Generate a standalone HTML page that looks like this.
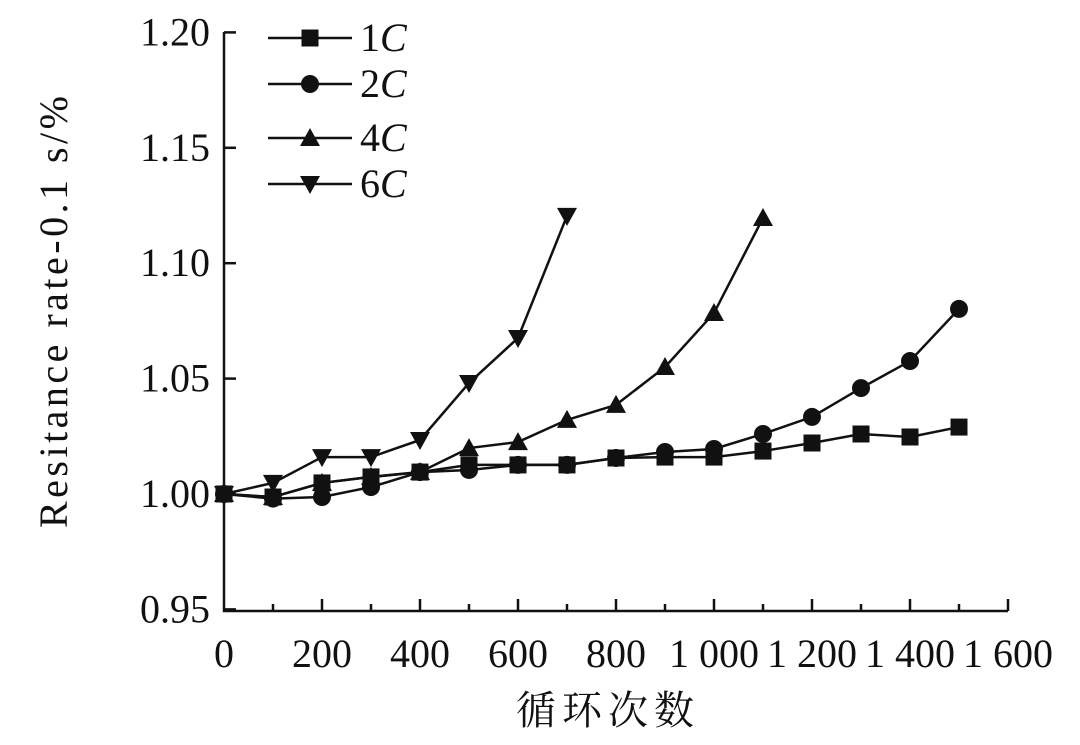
<!DOCTYPE html>
<html><head><meta charset="utf-8"><style>
html,body{margin:0;padding:0;background:#fff;}
svg{display:block;}
text{font-family:"Liberation Serif","Noto Serif CJK SC",serif;fill:#111;}
</style></head><body>
<svg id="chart" width="1080" height="745" viewBox="0 0 1080 745"></svg>
<script>
const xTicks=[0,200,400,600,800,1000,1200,1400,1600];
const xTickLabels=["0","200","400","600","800","1 000","1 200","1 400","1 600"];
const yTicks=[0.95,1.00,1.05,1.10,1.15,1.20];
const yTickLabels=["0.95","1.00","1.05","1.10","1.15","1.20"];
const cycles1=[0,100,200,300,400,500,600,700,800,900,1000,1100,1200,1300,1400,1500];
const rate1C=[1.000,0.9987,1.0048,1.0074,1.0095,1.0126,1.0126,1.0126,1.0156,1.0160,1.0160,1.0186,1.0221,1.026,1.0247,1.029];
const cycles2=[0,100,200,300,400,500,600,700,800,900,1000,1100,1200,1300,1400,1500];
const rate2C=[1.000,0.998,0.9987,1.0030,1.0095,1.0104,1.0126,1.0126,1.0156,1.0182,1.0195,1.026,1.0334,1.0459,1.0576,1.0802];
const cycles4=[0,100,200,300,400,500,600,700,800,900,1000,1100];
const rate4C=[1.000,0.9987,1.0048,1.0074,1.0095,1.0199,1.0225,1.0321,1.0386,1.055,1.0784,1.1196];
const cycles6=[0,100,200,300,400,500,600,700];
const rate6C=[1.000,1.0048,1.016,1.016,1.0234,1.0481,1.0676,1.1205];
const seriesNames=["1C","2C","4C","6C"];

const svg=document.getElementById('chart');
const NS='http://www.w3.org/2000/svg';
const X0=224,X1=1008,Y0=611,Ytop=32;
const sx=v=>X0+(v-0)/1600*(X1-X0);
const sy=v=>494-(v-1.0)/0.05*115.4;
function mk(tag,attrs,parent){const e=document.createElementNS(NS,tag);for(const k in attrs)e.setAttribute(k,attrs[k]);(parent||svg).appendChild(e);return e;}

let ax=mk('path',{d:`M${X0} ${Ytop} V${Y0} H${X1}`,stroke:'#111','stroke-width':2.5,fill:'none'});


yTicks.forEach((v,i)=>{
  const t=mk('line',{x1:X0,x2:X0+12,y1:sy(v),y2:sy(v),stroke:'#111','stroke-width':2.5});
  
  
  const l=mk('text',{x:X0-14,y:sy(v)+13,'text-anchor':'end','font-size':40});
  l.textContent=yTickLabels[i];
  
  
});
for(let v=100;v<=1600;v+=100){
  const major=v%200===0;
  const t=mk('line',{x1:sx(v),x2:sx(v),y1:Y0,y2:Y0-(major?12:7),stroke:'#111','stroke-width':2.5});
  
  
}
xTicks.forEach((v,i)=>{
  const l=mk('text',{x:sx(v),y:667,'text-anchor':'middle','font-size':40});
  l.textContent=xTickLabels[i];
  
  
});
let xt=mk('text',{x:608,y:724,'text-anchor':'middle','font-size':40,'letter-spacing':'6'});
xt.textContent='循环次数';


let yt=mk('text',{x:0,y:0,'text-anchor':'middle','font-size':40,textLength:432,lengthAdjust:'spacing',transform:'translate(67,312) rotate(-90)'});
yt.textContent='Resitance rate-0.1 s/%';



function marker(type,x,y,g){
  const s=8.5;
  if(type==='square') return mk('rect',{x:x-s,y:y-s,width:2*s,height:2*s,fill:'#111'},g);
  if(type==='circle') return mk('circle',{cx:x,cy:y,r:9,fill:'#111'},g);
  if(type==='up') return mk('polygon',{points:`${x},${y-10} ${x+10},${y+8} ${x-10},${y+8}`,fill:'#111'},g);
  return mk('polygon',{points:`${x},${y+10} ${x+10},${y-8} ${x-10},${y-8}`,fill:'#111'},g);
}
const allX=[cycles1,cycles2,cycles4,cycles6],allY=[rate1C,rate2C,rate4C,rate6C];
const types=['square','circle','up','down'];
allX.forEach((xs,si)=>{
  const g=mk('g',{});
  
  
  const d=xs.map((x,i)=>(i?'L':'M')+sx(x)+' '+sy(allY[si][i])).join(' ');
  mk('path',{d:d,stroke:'#111','stroke-width':2.5,fill:'none'},g);
  xs.forEach((x,i)=>{
    const m=marker(types[si],sx(x),sy(allY[si][i]),g);
    
    
  });
});
const legY=[38,84,138,184];
seriesNames.forEach((n,i)=>{
  const g=mk('g',{});
  
  
  mk('line',{x1:268,x2:352,y1:legY[i],y2:legY[i],stroke:'#111','stroke-width':2.5},g);
  marker(types[i],310,legY[i],g);
  const t=mk('text',{x:360,y:legY[i]+13,'font-size':40},g);
  t.textContent=n.slice(0,1);
  const it=mk('tspan',{'font-style':'italic'},t);
  it.textContent=n.slice(1);
});
</script>
</body></html>
